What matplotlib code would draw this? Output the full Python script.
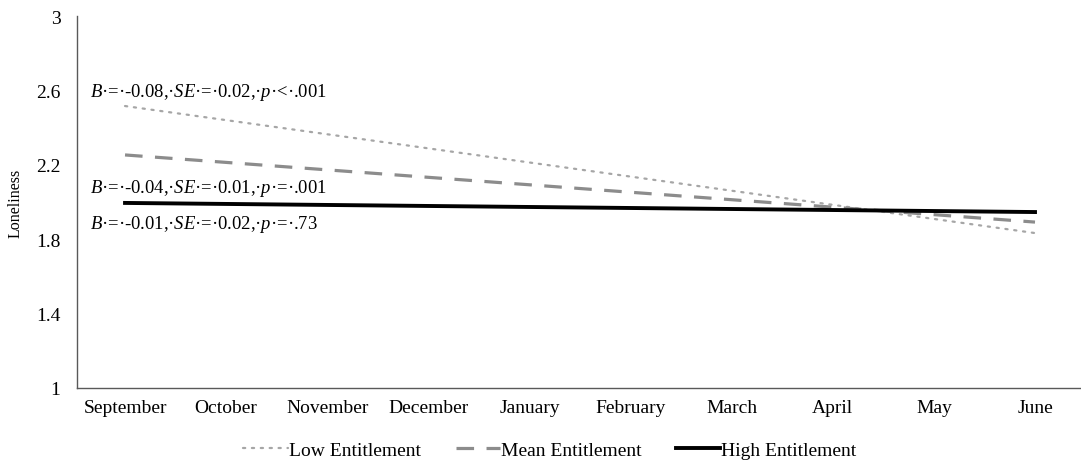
import matplotlib
matplotlib.use("Agg")
import matplotlib.pyplot as plt

plt.rcParams['font.family'] = ['Liberation Serif', 'DejaVu Serif']
plt.rcParams['mathtext.fontset'] = 'custom'
plt.rcParams['mathtext.rm'] = 'Liberation Serif'
plt.rcParams['mathtext.it'] = 'Liberation Serif:italic'

months = ["September", "October", "November", "December", "January",
          "February", "March", "April", "May", "June"]
endpoints = ["September", "June"]
low_vals = [2.516, 1.833]
mean_vals = [2.253, 1.892]
high_vals = [1.995, 1.946]
series_names = ["Low Entitlement", "Mean Entitlement", "High Entitlement"]
annotations = [
    r"$\it{B}$·=·-0.08,·$\it{SE}$·=·0.02,·$\it{p}$·<·.001",
    r"$\it{B}$·=·-0.04,·$\it{SE}$·=·0.01,·$\it{p}$·=·.001",
    r"$\it{B}$·=·-0.01,·$\it{SE}$·=·0.02,·$\it{p}$·=·.73",
]
yticks = [1, 1.4, 1.8, 2.2, 2.6, 3]

fig = plt.figure(figsize=(10.81, 4.64), dpi=100)
ax = fig.add_axes([77/1081, 1 - 389/464, 1003/1081, 372/464])

xpos = [months.index(m) for m in endpoints]
l1, = ax.plot(xpos, low_vals, color="#a6a6a6", lw=1.6, linestyle=(0, (1, 3)),
              dash_capstyle="round", label=series_names[0])
l2, = ax.plot(xpos, mean_vals, color="#8c8c8c", lw=2.3, linestyle=(0, (5.5, 3.9)),
              label=series_names[1])
l3, = ax.plot(xpos, high_vals, color="black", lw=2.8, label=series_names[2])

ax.set_xlim(-0.475, 9.445)
ax.set_ylim(1, 3)
ax.set_xticks(range(len(months)))
ax.set_xticklabels(months, fontsize=14)
ax.set_yticks(yticks)
ax.set_yticklabels([f"{v:g}" for v in yticks], fontsize=14)
ax.tick_params(length=0)
ax.tick_params(axis='x', pad=8)
ax.tick_params(axis='y', pad=12)
for s in ["top", "right"]:
    ax.spines[s].set_visible(False)
for s in ["left", "bottom"]:
    ax.spines[s].set_color("#595959")
    ax.spines[s].set_linewidth(1.0)

ax.set_ylabel("Loneliness", fontsize=11.5, labelpad=9)

ann_y = [2.593, 2.08, 1.885]
for txt, yv in zip(annotations, ann_y):
    ax.text(-0.345, yv, txt, fontsize=13.4, va="center", ha="left")

fig.legend(handles=[l1, l2, l3], loc="center", bbox_to_anchor=(550/1081, 1 - 451/464),
           ncol=3, frameon=False, fontsize=14, handlelength=2.27,
           columnspacing=1.8, handletextpad=0.05)

fig.savefig("out.png", dpi=100)
